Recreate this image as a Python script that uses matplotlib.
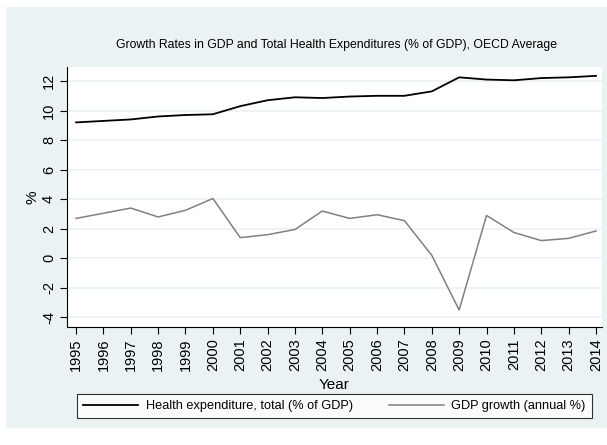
import matplotlib
matplotlib.use('Agg')
import matplotlib.pyplot as plt
from matplotlib.patches import Rectangle

plt.rcParams['font.family'] = ['Liberation Sans', 'DejaVu Sans']

BG = '#eaf2f3'
GRID = '#eaf2f3'

years = list(range(1995, 2015))
health_exp = [9.2, 9.3, 9.4, 9.6, 9.7, 9.75, 10.3, 10.7, 10.9, 10.85,
              10.95, 11.0, 11.0, 11.3, 12.25, 12.1, 12.05, 12.2, 12.25, 12.35]
gdp_growth = [2.7, 3.05, 3.4, 2.8, 3.25, 4.05, 1.4, 1.6, 1.95, 3.2,
              2.7, 2.95, 2.55, 0.2, -3.5, 2.9, 1.75, 1.2, 1.35, 1.85]
y_ticks = [-4, -2, 0, 2, 4, 6, 8, 10, 12]

W, H = 607, 445
fig = plt.figure(figsize=(W / 100, H / 100), dpi=100, facecolor='white')

# Stata-like graph region
fig.patches.append(Rectangle((6 / W, 1 - 428 / H), (W - 6) / W, (428 - 7) / H,
                             transform=fig.transFigure, facecolor=BG,
                             edgecolor='none', zorder=-10))

ax = fig.add_axes([67 / W, 1 - 327 / H, (602 - 67) / W, (327 - 67) / H])
ax.set_zorder(5)
ax.set_facecolor('white')

l1, = ax.plot(years, health_exp, color='black', lw=1.3)
l2, = ax.plot(years, gdp_growth, color='#808080', lw=1.1)

ax.set_xlim(1994.67, 2014.22)
ax.set_ylim(-4.65, 12.95)
ax.set_yticks(y_ticks)
ax.set_yticklabels([str(t) for t in y_ticks], rotation=90, va='center', fontsize=10.5)
ax.set_xticks(years)
ax.set_xticklabels([str(y) for y in years], rotation=90, fontsize=10.5)
ax.tick_params(direction='out', length=5, width=0.8, color='black', pad=3)
for yv in y_ticks:
    ax.axhline(yv, color=GRID, lw=1.2, zorder=0)

for s in ['top', 'right']:
    ax.spines[s].set_visible(False)
for s in ['left', 'bottom']:
    ax.spines[s].set_linewidth(0.8)

ax.set_xlabel('Year', fontsize=11, labelpad=5)
ax.set_ylabel('%', fontsize=11, labelpad=2)

fig.text(337 / W, 1 - 45 / H,
         'Growth Rates in GDP and Total Health Expenditures (% of GDP), OECD Average',
         ha='center', va='center', fontsize=8.8)

leg = fig.legend([l1, l2], ['Health expenditure, total (% of GDP)', 'GDP growth (annual %)'],
                 loc='center', bbox_to_anchor=((79 + 590) / 2 / W, 1 - 406 / H),
                 ncol=2, fontsize=9.2, frameon=True, fancybox=False,
                 edgecolor='black', handlelength=4.3, columnspacing=2.8,
                 borderpad=0.5, handletextpad=0.6, borderaxespad=0)
leg.get_frame().set_linewidth(0.8)
leg.set_zorder(6)

fig.savefig('out.png', dpi=100, facecolor='white')
